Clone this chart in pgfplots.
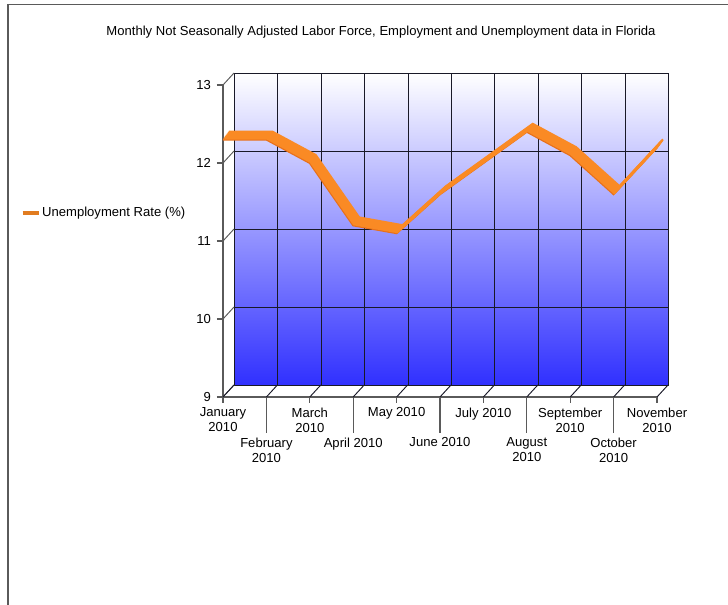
\documentclass[border=0pt]{standalone}
\usepackage{fontspec}
\setmainfont{Liberation Sans}
\usepackage{pgfplots}
\pgfplotsset{compat=1.18}

\definecolor{wallblue}{RGB}{48,48,255}
\definecolor{ribbon}{RGB}{250,138,36}
\definecolor{ribbonedge}{RGB}{232,112,26}
\definecolor{frameline}{RGB}{90,90,90}
\definecolor{gridline}{RGB}{25,25,40}

\pgfplotstableread{
x  rate
0  12.3
1  12.3
2  12.0
3  11.2
4  11.1
5  11.6
6  12.0
7  12.4
8  12.1
9  11.6
10 12.2
}\ratetable

\begin{document}
\begin{tikzpicture}[font=\fontsize{9.8}{11.2}\selectfont]
\useasboundingbox (0,0) rectangle (546pt,453.75pt);
% outer frame (top and left edges visible)
\draw[frameline, line width=1.2pt] (6.2pt,0) -- (6.2pt,450.4pt) -- (546pt,450.4pt);
\node at (285.75pt,430pt) {Monthly Not Seasonally Adjusted Labor Force, Employment and Unemployment data in Florida};

% back wall
\begin{axis}[
    at={(175.9pt,165pt)}, anchor=south west,
    scale only axis, width=325.5pt, height=234pt,
    xmin=0, xmax=10, ymin=9, ymax=13,
    xtick={0,...,10}, ytick={10,11,12},
    xticklabels={}, yticklabels={},
    major tick length=0pt,
    grid=major,
    grid style={gridline, line width=0.7pt},
    axis line style={gridline, line width=0.7pt},
    axis background/.style={top color=white, bottom color=wallblue},
]
\addplot[draw=none] coordinates {(0,9)};
\end{axis}

% front axes, ribbon and legend
\begin{axis}[
    at={(167.25pt,156pt)}, anchor=south west,
    scale only axis, width=325.5pt, height=234pt,
    xmin=0, xmax=10, ymin=9, ymax=13,
    clip=false,
    axis x line*=bottom, axis y line*=left,
    axis line style={frameline, line width=0.9pt, -},
    tick style={frameline, line width=0.9pt},
    tick align=outside,
    major tick length=4.5pt,
    ytick={9,10,11,12,13},
    /pgf/number format/assume math mode=true,
    yticklabel style={xshift=-1pt},
    xtick={0,2,4,6,8,10},
    xticklabels={January\\2010, March\\2010, May 2010, July 2010, September\\2010, November\\2010},
    xticklabel style={align=center, anchor=north, yshift=0pt},
    extra x ticks={1,3,5,7,9},
    extra x tick labels={February\\2010, April 2010, June 2010, August\\2010, October\\2010},
    extra x tick style={major tick length=27pt},
    legend style={at={(-0.467,0.591)}, anchor=west, draw=none, fill=none,
        inner sep=0pt, font=\fontsize{9.8}{11.2}\selectfont,
        nodes={inner xsep=1.2pt}},
    legend cell align=left,
    legend image code/.code={\draw[ribbon!90!black, line width=3pt] (0pt,0pt) -- (12pt,0pt);},
]
\addplot[ribbonedge, line width=1.5pt] table[x=x, y=rate] {\ratetable};
\addlegendentry{Unemployment Rate (\%)}
\pgfplotsinvokeforeach{1,...,8}{
  \addplot[ribbon, line width=1.5pt, xshift=#1*0.56pt, yshift=#1*0.75pt, forget plot]
    table[x=x, y=rate] {\ratetable};
}
% depth connectors between the front axes and the back wall
\pgfplotsinvokeforeach{9,...,13}{
  \draw[frameline, line width=0.7pt] (axis cs:0,#1) -- ++(8.25pt,9pt);
}
\pgfplotsinvokeforeach{0,...,10}{
  \draw[gridline, line width=0.7pt] (axis cs:#1,9) -- ++(8.25pt,9pt);
}
\end{axis}
\end{tikzpicture}
\end{document}
